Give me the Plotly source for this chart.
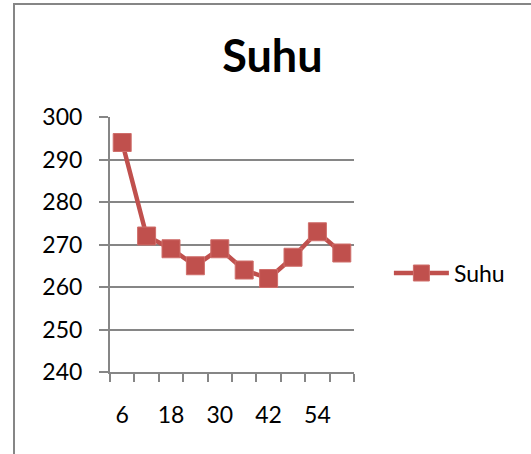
import plotly.graph_objects as go

x_vals = [6, 12, 18, 24, 30, 36, 42, 48, 54, 60]
suhu = [294, 272, 269, 265, 269, 264, 262, 267, 273, 268]
label_vals = [6, 18, 30, 42, 54]
series_name = "Suhu"
title_text = "Suhu"

step = x_vals[1] - x_vals[0]
boundaries = [v - step / 2 for v in x_vals] + [x_vals[-1] + step / 2]

RED = "#C0504D"
GRAY = "#868686"
FONT = "Lato, Carlito, Calibri, sans-serif"

fig = go.Figure()
fig.add_trace(go.Scatter(
    x=x_vals, y=suhu, name=series_name, mode="lines+markers",
    line=dict(color=RED, width=4.5),
    marker=dict(symbol="square", size=18, color=RED, line=dict(color="#CF6E6B", width=1)),
    showlegend=True,
))

fig.update_layout(
    width=531, height=454,
    margin=dict(l=110, r=177, t=117, b=82),
    paper_bgcolor="white", plot_bgcolor="white",
    font=dict(family=FONT, size=23, color="black"),
    title=dict(text="<b>" + title_text + "</b>", font=dict(size=45, family=FONT, color="black"),
               xref="container", yref="container", x=0.513, y=0.877,
               xanchor="center", yanchor="middle"),
    legend=dict(x=1.143, y=0.388, xanchor="left", yanchor="middle",
                font=dict(size=23, family=FONT), itemwidth=55,
                bgcolor="rgba(0,0,0,0)"),
    showlegend=True,
)

fig.update_xaxes(
    range=[boundaries[0], boundaries[-1]],
    tickvals=label_vals, ticktext=[str(v) for v in label_vals],
    ticks="", showgrid=False, zeroline=False,
    showline=True, linecolor=GRAY, linewidth=2,
    ticklabelstandoff=21,
    minor=dict(tickvals=boundaries, ticks="outside", ticklen=8, tickcolor=GRAY, tickwidth=2, showgrid=False),
)
fig.update_yaxes(
    range=[240, 300], dtick=10, tick0=240,
    showgrid=True, gridcolor=GRAY, gridwidth=1.5,
    zeroline=False,
    showline=True, linecolor=GRAY, linewidth=2,
    ticks="outside", ticklen=9, tickcolor=GRAY, tickwidth=1.5,
    ticklabelstandoff=12,
)

# chart frame (left and top edges of the chart area)
fig.add_shape(type="path", xref="paper", yref="paper",
              path="M %f,%f L %f,%f L %f,%f" % ((14 - 110) / 244, (372 - 460) / 255,
                                               (14 - 110) / 244, (372 - 4) / 255,
                                               (540 - 110) / 244, (372 - 4) / 255),
              line=dict(color=GRAY, width=2))

fig.write_html("out.html", config={"displayModeBar": False},
               post_script="document.body.style.margin='0';document.body.style.overflow='hidden';")
